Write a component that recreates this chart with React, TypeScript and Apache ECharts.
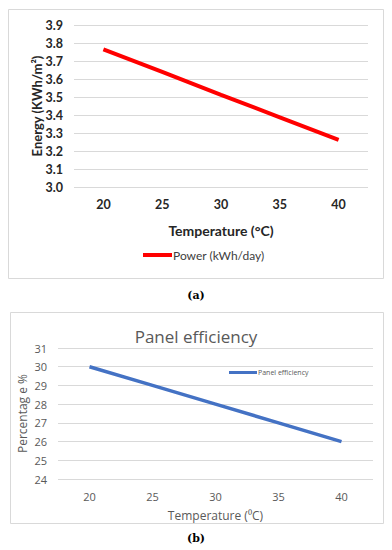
import React, { useEffect, useRef } from "react";
import * as echarts from "echarts";

const temperatures = ["20", "25", "30", "35", "40"];
const powerValues = [3.765, 3.64, 3.512, 3.387, 3.262];
const efficiencyValues = [30, 29, 28, 27, 26];
const energyTicks = { min: 3.0, max: 3.9, interval: 0.1 };
const effTicks = { min: 24, max: 31, interval: 1 };

export default function App() {
  const ref = useRef<HTMLDivElement>(null);
  useEffect(() => {
    document.body.style.margin = "0";
    const chart = echarts.init(ref.current!, undefined, { renderer: "svg" });
    const fontA = "Lato, 'Open Sans', sans-serif";
    const fontB = "'Open Sans', Lato, sans-serif";
    chart.setOption({
      animation: false,
      backgroundColor: "#ffffff",
      title: {
        text: "Panel efficiency",
        left: "center",
        top: 323,
        textStyle: { fontFamily: fontB, fontSize: 17, fontWeight: "normal", color: "#595959" },
      },
      graphic: [
        { type: "rect", shape: { x: 8.5, y: 9.5, width: 375, height: 269 }, style: { fill: "none", stroke: "#d9d9d9", lineWidth: 1 } },
        { type: "rect", shape: { x: 10.5, y: 312.5, width: 373, height: 211 }, style: { fill: "none", stroke: "#d9d9d9", lineWidth: 1 } },
        { type: "text", x: 196, y: 295, style: { text: "(a)", fontFamily: "'DejaVu Serif', 'Liberation Serif', serif", fontWeight: "bold", fontSize: 11, fill: "#000", align: "center", verticalAlign: "middle" } },
        { type: "text", x: 196, y: 538, style: { text: "(b)", fontFamily: "'DejaVu Serif', 'Liberation Serif', serif", fontWeight: "bold", fontSize: 11, fill: "#000", align: "center", verticalAlign: "middle" } },
      ],
      legend: [
        {
          data: ["Power (kWh/day)"],
          left: 138,
          top: 244,
          icon: "rect",
          itemWidth: 29,
          itemHeight: 4,
          itemGap: 0,
          textStyle: { fontFamily: fontA, fontSize: 12, color: "#404040", padding: [0, 0, 0, -4] },
        },
        {
          data: ["Panel efficiency"],
          left: 224,
          top: 364,
          icon: "rect",
          itemWidth: 28,
          itemHeight: 3,
          textStyle: { fontFamily: fontB, fontSize: 7, color: "#595959", padding: [0, 0, 0, -4] },
        },
      ],
      grid: [
        { left: 74, top: 25, width: 294, height: 162 },
        { left: 58, top: 348, width: 315, height: 131 },
      ],
      xAxis: [
        {
          gridIndex: 0,
          type: "category",
          data: temperatures,
          axisLine: { show: false },
          axisTick: { show: false },
          axisLabel: { fontFamily: fontA, fontWeight: "bold", fontSize: 12.5, color: "#262626", margin: 11 },
          name: "Temperature (°C)",
          nameLocation: "middle",
          nameGap: 36,
          nameMoveOverlap: false,
          nameTextStyle: { fontFamily: fontA, fontWeight: "bold", fontSize: 14, color: "#262626" },
        },
        {
          gridIndex: 1,
          type: "category",
          data: temperatures,
          axisLine: { show: false },
          axisTick: { show: false },
          axisLabel: { fontFamily: fontB, fontSize: 11, color: "#595959", margin: 12 },
          name: "Temperature (⁰C)",
          nameLocation: "middle",
          nameGap: 30,
          nameMoveOverlap: false,
          nameTextStyle: { fontFamily: fontB, fontSize: 12, color: "#595959" },
        },
      ],
      yAxis: [
        {
          gridIndex: 0,
          type: "value",
          min: energyTicks.min,
          max: energyTicks.max,
          interval: energyTicks.interval,
          axisLine: { show: false },
          axisTick: { show: false },
          splitLine: { lineStyle: { color: "#d9d9d9", width: 1 } },
          axisLabel: { fontFamily: fontA, fontWeight: "bold", fontSize: 12.5, color: "#262626", margin: 11, formatter: (v: number) => v.toFixed(1) },
          name: "Energy (KWh/m²)",
          nameLocation: "middle",
          nameGap: 31,
          nameMoveOverlap: false,
          nameTextStyle: { fontFamily: fontA, fontWeight: "bold", fontSize: 13, color: "#262626" },
        },
        {
          gridIndex: 1,
          type: "value",
          min: effTicks.min,
          max: effTicks.max,
          interval: effTicks.interval,
          axisLine: { show: false },
          axisTick: { show: false },
          splitLine: { lineStyle: { color: "#d9d9d9", width: 1 } },
          axisLabel: { fontFamily: fontB, fontSize: 11, color: "#595959", margin: 11 },
          name: "Percentag e %",
          nameLocation: "middle",
          nameGap: 30,
          nameMoveOverlap: false,
          nameTextStyle: { fontFamily: fontB, fontSize: 12, color: "#595959" },
        },
      ],
      series: [
        {
          name: "Power (kWh/day)",
          type: "line",
          xAxisIndex: 0,
          yAxisIndex: 0,
          data: powerValues,
          showSymbol: false,
          symbol: "none",
          lineStyle: { color: "#ff0000", width: 4 },
          itemStyle: { color: "#ff0000" },
        },
        {
          name: "Panel efficiency",
          type: "line",
          xAxisIndex: 1,
          yAxisIndex: 1,
          data: efficiencyValues,
          showSymbol: false,
          symbol: "none",
          lineStyle: { color: "#4472c4", width: 3.5 },
          itemStyle: { color: "#4472c4" },
        },
      ],
    });
    return () => chart.dispose();
  }, []);
  return <div ref={ref} style={{ width: 392, height: 550 }} />;
}
